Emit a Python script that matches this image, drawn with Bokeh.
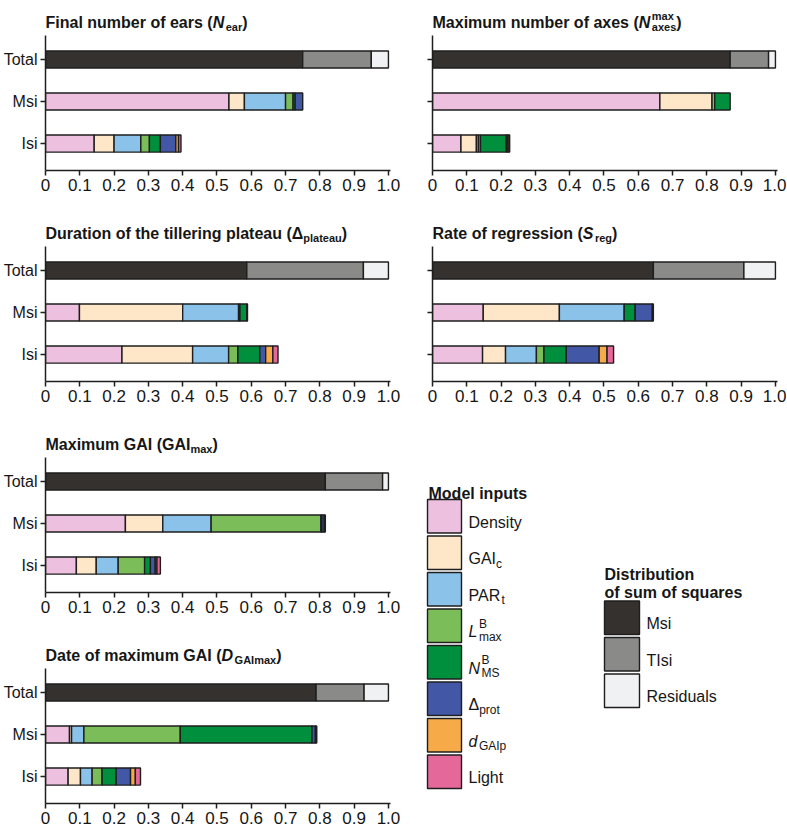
import numpy as np
from bokeh.plotting import figure
from bokeh.models import Range1d, FixedTicker, ColumnDataSource
from bokeh.layouts import column, row
from bokeh.embed import file_html
from bokeh.resources import INLINE
from bokeh.core.properties import value

# ---------------- data ----------------
row_labels = ["Isi", "Msi", "Total"]
input_names = ["Density", "GAIc", "PARt", "Lmax", "NMS", "Δprot", "dGAIp", "Light"]
input_colors = ["#ECC0DE", "#FEE6C9", "#8BC2EA", "#7BBD59", "#008F3C", "#4257A6", "#F6AA48", "#E4699A"]
ss_names = ["Msi", "TIsi", "Residuals"]
ss_colors = ["#35312E", "#8A8A89", "#F0F1F3"]
x_ticks = [0, 0.1, 0.2, 0.3, 0.4, 0.5, 0.6, 0.7, 0.8, 0.9, 1.0]
x_tick_labels = ["0", "0.1", "0.2", "0.3", "0.4", "0.5", "0.6", "0.7", "0.8", "0.9", "1.0"]

# order of inputs: Density, GAIc, PARt, Lmax, NMS, Δprot, dGAIp, Light
near_total = [0.75, 0.20, 0.05]
near_msi = [0.535, 0.045, 0.12, 0.022, 0.006, 0.022, 0.0, 0.0]
near_isi = [0.142, 0.058, 0.078, 0.025, 0.032, 0.045, 0.008, 0.007]

naxes_total = [0.868, 0.112, 0.02]
naxes_msi = [0.663, 0.152, 0.0, 0.008, 0.045, 0.0, 0.0, 0.0]
naxes_isi = [0.083, 0.045, 0.006, 0.006, 0.075, 0.003, 0.005, 0.002]

plateau_total = [0.587, 0.34, 0.073]
plateau_msi = [0.099, 0.301, 0.163, 0.004, 0.02, 0.002, 0.0, 0.0]
plateau_isi = [0.223, 0.206, 0.105, 0.027, 0.064, 0.017, 0.021, 0.015]

sreg_total = [0.644, 0.264, 0.092]
sreg_msi = [0.148, 0.222, 0.189, 0.0, 0.032, 0.05, 0.0, 0.003]
sreg_isi = [0.146, 0.067, 0.09, 0.022, 0.065, 0.096, 0.023, 0.019]

gaimax_total = [0.816, 0.167, 0.017]
gaimax_msi = [0.233, 0.109, 0.141, 0.32, 0.003, 0.007, 0.0, 0.003]
gaimax_isi = [0.09, 0.058, 0.064, 0.077, 0.017, 0.014, 0.005, 0.01]

dgai_total = [0.789, 0.14, 0.071]
dgai_msi = [0.07, 0.006, 0.036, 0.281, 0.384, 0.01, 0.0, 0.004]
dgai_isi = [0.066, 0.036, 0.034, 0.029, 0.041, 0.042, 0.014, 0.015]

# ---------------- text metrics (Arial / Liberation Sans) ----------------
FONT = "Liberation Sans"
TXT = "#161616"
LINE = "#1E1E1E"
REG = {' ': 278, '(': 333, ')': 333, '.': 278, 'A': 667, 'B': 667, 'C': 722, 'D': 722, 'E': 667,
       'F': 611, 'G': 778, 'H': 722, 'I': 278, 'L': 556, 'M': 833, 'N': 722, 'P': 667, 'R': 722,
       'S': 667, 'T': 611, 'a': 556, 'b': 556, 'c': 500, 'd': 556, 'e': 556, 'f': 278, 'g': 556,
       'h': 556, 'i': 222, 'l': 222, 'm': 833, 'n': 556, 'o': 556, 'p': 556, 'q': 556, 'r': 333,
       's': 500, 't': 278, 'u': 556, 'x': 500, 'y': 500, 'Δ': 668}
BOLD = {' ': 278, '(': 333, ')': 333, 'A': 722, 'D': 722, 'F': 611, 'G': 778, 'I': 278, 'M': 833,
        'N': 722, 'R': 722, 'S': 667, 'T': 611, 'a': 556, 'b': 611, 'c': 556, 'd': 611, 'e': 556,
        'f': 333, 'g': 611, 'h': 611, 'i': 278, 'l': 278, 'm': 889, 'n': 611, 'o': 611, 'p': 611,
        'q': 611, 'r': 389, 's': 556, 't': 333, 'u': 611, 'x': 556, 'y': 556, 'Δ': 722}


def text_width(t, size, bold):
    tab = BOLD if bold else REG
    return sum(tab.get(ch, 600) for ch in t) * size / 1000.0


def layout_pieces(pieces, main, small, sub_dy, sup_dy, bold):
    """returns list of (dx, dy, text, size, style); dy positive = up"""
    out = []
    x = 0.0
    for pc in pieces:
        t, kind, ital = pc[0], pc[1], pc[2]
        adv = pc[3] if len(pc) > 3 else True
        size = main if kind == "n" else small
        dy = 0 if kind == "n" else (sub_dy if kind == "sub" else sup_dy)
        style = ("bold " if bold else "") + ("italic" if ital else "")
        style = style.strip() or "normal"
        out.append((x, dy, t, size, style))
        if adv:
            x += text_width(t, size, bold) + (1.5 if ital else 0)
    return out


def blank_fig(w, h, bl=0, br=0):
    fw = w - bl - br
    f = figure(width=w, height=h, x_range=Range1d(0, fw), y_range=Range1d(h, 0),
               output_backend="svg", toolbar_location=None,
               min_border_left=bl, min_border_right=br, min_border_top=0, min_border_bottom=0,
               x_axis_type=None, y_axis_type=None)
    f.outline_line_color = None
    f.grid.visible = False
    return f


def draw_rich(f, x, y, pieces, bold, main, small, sub_dy, sup_dy):
    for dx, dy, t, size, style in layout_pieces(pieces, main, small, sub_dy, sup_dy, bold):
        f.text(x=[x + dx], y=[y - dy], text=[t], text_font=value(FONT),
               text_font_size=value(f"{size}px"), text_font_style=style,
               text_color=TXT, text_baseline="alphabetic", text_align="left")


# ---------------- panels ----------------
LEFT_W, RIGHT_W = 416, 370
TITLE_H = 35
FRAME_H = 135


def make_panel(total, msi, isi, title_pieces, left, row_h):
    bl = 45 if left else 16
    br = 26 if left else 9
    w = LEFT_W if left else RIGHT_W
    bottom = row_h - TITLE_H - FRAME_H

    tf = blank_fig(w, TITLE_H, bl, br)
    draw_rich(tf, 0, 22, title_pieces, True, 16, 11, -4, 7)

    p = figure(width=w, height=row_h - TITLE_H, x_range=Range1d(0, 1.006),
               y_range=Range1d(-0.64, 2.57), output_backend="svg", toolbar_location=None,
               min_border_left=bl, min_border_right=br, min_border_top=0,
               min_border_bottom=bottom)
    p.outline_line_color = None
    p.xgrid.grid_line_color = None
    p.ygrid.grid_line_color = None

    ys, lefts, rights, cols = [], [], [], []
    for y, vals, colors in [(2, total, ss_colors), (1, msi, input_colors), (0, isi, input_colors)]:
        vals = np.array(vals, dtype=float)
        ends = np.cumsum(vals)
        starts = ends - vals
        for s, e, v, c in zip(starts, ends, vals, colors):
            if v > 0:
                ys.append(y); lefts.append(s); rights.append(e); cols.append(c)
    src = ColumnDataSource(dict(y=ys, left=lefts, right=rights, color=cols))
    p.hbar(y="y", left="left", right="right", height=0.405, fill_color="color",
           line_color=LINE, line_width=1.4, source=src)

    for ax in (p.xaxis[0], p.yaxis[0]):
        ax.axis_line_width = 1.5
        ax.axis_line_color = LINE
        ax.major_tick_line_width = 1.5
        ax.major_tick_line_color = LINE
        ax.minor_tick_line_color = None
        ax.major_tick_in = 0
        ax.major_tick_out = 5
        ax.major_label_text_font = FONT
        ax.major_label_text_color = TXT
    p.xaxis.ticker = FixedTicker(ticks=x_ticks)
    p.xaxis.major_label_overrides = dict(zip(x_ticks, x_tick_labels))
    p.xaxis.major_label_text_font_size = "17px"
    p.xaxis.major_label_standoff = 3
    p.yaxis.ticker = FixedTicker(ticks=[0, 1, 2])
    p.yaxis.major_label_standoff = 3
    p.yaxis.major_label_text_font_size = "16px"
    if left:
        p.yaxis.major_label_overrides = dict(zip([0, 1, 2], row_labels))
    else:
        p.yaxis.major_label_overrides = {0: "", 1: "", 2: ""}
    return column(tf, p)


t1 = [("Final number of ears (", "n", False), ("N", "n", True), ("ear", "sub", False), (")", "n", False)]
t2 = [("Maximum number of axes (", "n", False), ("N", "n", True), ("max", "sup", False, False),
      ("axes", "sub", False), (")", "n", False)]
t3 = [("Duration of the tillering plateau (", "n", False), ("Δ", "n", False), ("plateau", "sub", False),
      (")", "n", False)]
t4 = [("Rate of regression (", "n", False), ("S", "n", True), ("reg", "sub", False), (")", "n", False)]
t5 = [("Maximum GAI (GAI", "n", False), ("max", "sub", False), (")", "n", False)]
t6 = [("Date of maximum GAI (", "n", False), ("D", "n", True), ("GAImax", "sub", False), (")", "n", False)]

ROW_H = [211, 211, 211, 200]
p1 = make_panel(near_total, near_msi, near_isi, t1, True, ROW_H[0])
p2 = make_panel(naxes_total, naxes_msi, naxes_isi, t2, False, ROW_H[0])
p3 = make_panel(plateau_total, plateau_msi, plateau_isi, t3, True, ROW_H[1])
p4 = make_panel(sreg_total, sreg_msi, sreg_isi, t4, False, ROW_H[1])
p5 = make_panel(gaimax_total, gaimax_msi, gaimax_isi, t5, True, ROW_H[2])
p6 = make_panel(dgai_total, dgai_msi, dgai_isi, t6, True, ROW_H[3])

# ---------------- legend ----------------
LEG_X0, LEG_Y0 = LEFT_W, ROW_H[0] + ROW_H[1]
leg = blank_fig(RIGHT_W, ROW_H[2] + ROW_H[3])

input_label_pieces = [
    [("Density", "n", False)],
    [("GAI", "n", False), ("c", "sub", False)],
    [("PAR", "n", False), ("t", "sub", False)],
    [("L", "n", True), ("B", "sup", False, False), ("max", "sub", False)],
    [("N", "n", True), ("B", "sup", False, False), ("MS", "sub", False)],
    [("Δ", "n", False), ("prot", "sub", False)],
    [("d", "n", True), ("GAIp", "sub", False)],
    [("Light", "n", False)],
]
ss_label_pieces = [[("Msi", "n", False)], [("TIsi", "n", False)], [("Residuals", "n", False)]]

PITCH, SW = 36.5, 33.5
IN_X, IN_TOP = 427 - LEG_X0, 499 - LEG_Y0
n_in = len(input_names)
leg.quad(left=[IN_X] * n_in, right=[IN_X + 34] * n_in,
         top=[IN_TOP + PITCH * i for i in range(n_in)],
         bottom=[IN_TOP + PITCH * i + SW for i in range(n_in)],
         fill_color=input_colors, line_color=LINE, line_width=1.4)
draw_rich(leg, IN_X + 1, IN_TOP - 6, [("Model inputs", "n", False)], True, 16, 12, -5, 8)
for i, pcs in enumerate(input_label_pieces):
    draw_rich(leg, IN_X + 41, IN_TOP + PITCH * i + SW / 2 + 6, pcs, False, 16, 12, -5, 8)

SS_X, SS_TOP = 604 - LEG_X0, 600.5 - LEG_Y0
n_ss = len(ss_names)
leg.quad(left=[SS_X] * n_ss, right=[SS_X + 35] * n_ss,
         top=[SS_TOP + PITCH * i for i in range(n_ss)],
         bottom=[SS_TOP + PITCH * i + SW for i in range(n_ss)],
         fill_color=ss_colors, line_color=LINE, line_width=1.4)
draw_rich(leg, SS_X, SS_TOP - 27, [("Distribution", "n", False)], True, 16, 12, -5, 8)
draw_rich(leg, SS_X, SS_TOP - 8.5, [("of sum of squares", "n", False)], True, 16, 12, -5, 8)
for i, pcs in enumerate(ss_label_pieces):
    draw_rich(leg, SS_X + 42, SS_TOP + PITCH * i + SW / 2 + 6, pcs, False, 16, 12, -5, 8)

layout = column(row(p1, p2), row(p3, p4), row(column(p5, p6), leg))
open("out.html", "w").write(file_html(layout, INLINE))
